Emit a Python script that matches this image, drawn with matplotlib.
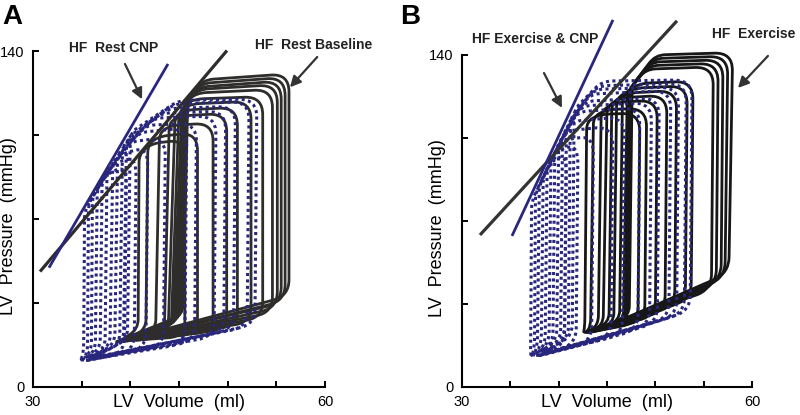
import numpy as np
import matplotlib
matplotlib.use("Agg")
import matplotlib.pyplot as plt
from matplotlib.path import Path
from matplotlib.patches import PathPatch
from matplotlib import font_manager

plt.rcParams['font.family'] = ['Liberation Sans', 'DejaVu Sans']

# ---------------------------------------------------------------------------
# PV loops, one list per condition. Each loop is given by its corner points
# (volume ml, pressure mmHg), in the order
#   bottom-left, bottom-right (end diastole), top-right, top end of ejection,
#   end systole (top-left), lower end of the left side
# ---------------------------------------------------------------------------
rest_baseline = [
    [(38.0, 18.0), (56.3, 38), (56.3, 130.5), (47.5, 128.0), (45.9, 120.0), (45.4, 30)],
    [(38.3, 18.0), (55.9, 36), (55.9, 129.0), (47.3, 126.5), (45.8, 119.5), (45.2, 29)],
    [(38.6, 18.5), (55.5, 35), (55.5, 127.5), (47.1, 125.0), (45.7, 119.0), (45.0, 28)],
    [(39.0, 18.5), (55.1, 33), (55.1, 126.0), (47.0, 124.0), (45.6, 118.5), (44.8, 27)],
    [(39.3, 19.0), (54.6, 31), (54.6, 124.0), (46.8, 122.5), (45.5, 118.0), (44.6, 27)],
    [(39.6, 19.0), (53.6, 29), (53.6, 121.0), (46.6, 120.0), (45.3, 117.0), (44.4, 26)],
    [(40.0, 19.0), (52.4, 27), (52.4, 119.0), (46.3, 118.0), (45.0, 115.0), (44.2, 25)],
    [(40.3, 19.5), (51.0, 25.5), (51.0, 116.5), (45.8, 115.5), (44.6, 113.0), (43.9, 25)],
    [(40.5, 19.5), (49.9, 24), (49.9, 114.0), (45.3, 113.0), (44.0, 110.5), (43.5, 24)],
    [(40.8, 20.0), (48.5, 23), (48.5, 110.0), (44.2, 109.0), (43.0, 106.0), (42.6, 24)],
    [(39.5, 19.5), (46.9, 22), (46.9, 106.0), (43.0, 104.5), (41.8, 101.0), (41.6, 24)],
    [(38.8, 19.0), (45.6, 21), (45.6, 103.0), (42.2, 101.5), (40.9, 97.0), (40.8, 24)],
]

rest_cnp = [
    [(36.2, 12.0), (52.8, 26), (53.0, 120), (45.0, 119.5), (40.0, 106.0), (39.7, 20)],
    [(36.0, 12.0), (52.0, 25), (52.2, 119), (44.5, 118.0), (39.6, 103.5), (39.3, 19)],
    [(35.8, 12.0), (50.6, 24), (50.8, 117), (43.8, 116.0), (39.2, 101.0), (38.9, 18)],
    [(35.6, 11.5), (49.6, 23), (49.8, 115), (43.0, 114.0), (38.7, 97.5), (38.4, 18)],
    [(35.5, 11.5), (48.6, 21), (48.8, 113), (42.3, 112.0), (38.2, 94.0), (37.9, 17)],
    [(35.3, 11.5), (46.6, 19), (46.8, 110), (41.5, 109.0), (37.6, 90.0), (37.4, 16)],
    [(35.2, 11.0), (45.6, 18), (45.8, 108), (40.8, 106.0), (37.1, 86.5), (36.9, 16)],
    [(35.0, 11.0), (43.4, 17), (43.6, 104), (39.8, 102.0), (36.6, 83.0), (36.4, 15)],
    [(35.0, 11.0), (41.6, 16), (41.8, 100), (38.9, 97.0), (36.1, 79.5), (36.0, 15)],
    [(34.9, 10.5), (40.4, 15), (40.6, 96), (38.2, 93.0), (35.7, 76.5), (35.6, 14)],
    [(34.8, 10.5), (39.4, 14), (39.6, 92), (37.6, 89.0), (35.3, 73.5), (35.2, 14)],
]

exercise = [
    [(43.5, 23.0), (57.6, 48), (58.0, 141.0), (50.0, 140.0), (47.6, 127.0), (47.3, 30)],
    [(43.4, 23.0), (57.2, 46), (57.5, 139.5), (49.8, 138.5), (47.5, 126.5), (47.2, 30)],
    [(43.3, 23.0), (56.8, 45), (57.0, 138.0), (49.5, 137.0), (47.4, 126.0), (47.0, 29)],
    [(43.2, 23.0), (56.3, 43), (56.5, 136.5), (49.3, 135.5), (47.3, 125.0), (46.9, 29)],
    [(43.1, 23.0), (55.8, 41), (56.0, 135.0), (49.0, 134.0), (47.1, 124.5), (46.7, 28)],
    [(43.0, 23.0), (53.7, 37), (53.9, 129.0), (48.3, 128.0), (46.6, 123.0), (46.3, 28)],
    [(42.9, 23.0), (53.1, 36), (53.3, 127.0), (47.8, 126.0), (46.0, 122.0), (45.7, 27)],
    [(42.8, 23.0), (52.0, 34), (52.2, 125.0), (47.2, 124.0), (45.5, 120.0), (45.2, 27)],
    [(42.7, 22.5), (51.0, 32), (51.2, 123.0), (46.5, 122.0), (45.0, 118.5), (44.6, 26)],
    [(42.7, 22.5), (50.0, 30), (50.2, 121.0), (45.9, 120.0), (44.4, 116.5), (44.1, 26)],
    [(42.6, 22.5), (48.9, 28), (49.1, 117.5), (45.0, 117.0), (43.6, 114.0), (43.3, 25)],
    [(42.5, 22.5), (48.2, 27), (48.4, 115.5), (44.3, 115.0), (42.9, 112.0), (42.7, 25)],
]

exercise_cnp = [
    [(38.5, 14.0), (53.6, 32), (53.8, 129.5), (44.5, 129.0), (41.6, 117.0), (41.4, 22)],
    [(38.3, 14.0), (53.0, 31), (53.2, 128.0), (44.0, 127.0), (41.2, 113.5), (41.0, 21)],
    [(38.1, 13.5), (52.2, 30), (52.4, 126.5), (43.6, 125.5), (40.8, 110.0), (40.6, 21)],
    [(37.9, 13.5), (51.4, 29), (51.6, 125.0), (43.2, 123.5), (40.4, 106.5), (40.2, 20)],
    [(37.8, 13.5), (50.2, 27), (50.4, 122.0), (42.7, 120.5), (40.0, 103.0), (39.8, 20)],
    [(37.7, 13.0), (49.4, 26), (49.6, 120.0), (42.3, 118.5), (39.6, 99.5), (39.4, 19)],
    [(37.6, 13.0), (48.2, 24), (48.4, 118.0), (41.9, 116.0), (39.2, 96.0), (39.0, 19)],
    [(37.5, 13.0), (46.6, 22), (46.8, 114.0), (41.3, 112.0), (38.8, 92.5), (38.6, 18)],
    [(37.4, 12.5), (45.4, 21), (45.6, 110.0), (40.8, 108.0), (38.4, 89.0), (38.2, 18)],
    [(37.3, 12.5), (43.4, 19), (43.6, 106.0), (40.3, 104.0), (38.0, 85.5), (37.8, 17)],
    [(37.2, 12.5), (41.8, 18), (42.0, 102.0), (39.8, 100.0), (37.6, 82.0), (37.5, 17)],
    [(37.1, 12.5), (40.6, 17), (40.8, 98.0), (39.3, 95.5), (37.2, 78.5), (37.1, 16)],
]

# end-systolic pressure-volume lines (two end points each)
rest_baseline_espvr = ([30.72, 49.93], [48.1, 140.2])
rest_cnp_espvr = ([31.64, 43.87], [49.7, 134.6])
exercise_espvr = ([31.86, 52.24], [64.1, 154.4])
exercise_cnp_espvr = ([35.17, 45.62], [63.7, 154.8])

BLACK_A = '#2e2d2b'
BLACK_B = '#171717'
NAVY = '#29277d'
CORNER_R = [10, 16, 18, 10, 8, 10]   # corner rounding, pixels

# narrow bold face for the annotations if one is installed
_names = {f.name for f in font_manager.fontManager.ttflist}
if 'Liberation Sans Narrow' in _names:
    NOTE_FONT = dict(family='Liberation Sans Narrow', fontsize=11)
else:
    NOTE_FONT = dict(family='Liberation Sans', fontsize=10)


def loop_path(ax, corners, radii):
    # rounded polygon through the corner points, built in pixel space
    pts = ax.transData.transform(np.asarray(corners, float))
    n = len(pts)
    verts, codes = [], []
    for i in range(n):
        c, prev, nxt = pts[i], pts[i - 1], pts[(i + 1) % n]
        din, dout = c - prev, nxt - c
        lin, lout = np.hypot(*din), np.hypot(*dout)
        a = c - din / lin * min(radii[i], 0.45 * lin)
        b = c + dout / lout * min(radii[i], 0.45 * lout)
        verts.append(a)
        codes.append(Path.MOVETO if i == 0 else Path.LINETO)
        verts += [c, b]
        codes += [Path.CURVE3, Path.CURVE3]
    verts.append(verts[0])
    codes.append(Path.LINETO)
    return Path(ax.transData.inverted().transform(np.array(verts)), codes)


def draw_loops(ax, loops, color, ls, lw):
    for corners in loops:
        ax.add_patch(PathPatch(loop_path(ax, corners, CORNER_R), fill=False,
                               ec=color, lw=lw, ls=ls, clip_on=False,
                               capstyle='butt', joinstyle='round'))


def style_axes(ax):
    ax.set_xlim(30, 60)
    ax.set_ylim(0, 140)
    for s in ['top', 'right']:
        ax.spines[s].set_visible(False)
    for s in ['left', 'bottom']:
        ax.spines[s].set_linewidth(1.5)
    ax.set_xticks(np.arange(30, 61, 5))
    ax.set_xticklabels(['30', '', '', '', '', '', '60'])
    ax.set_yticks(np.arange(0, 141, 35))
    ax.set_yticklabels(['0', '', '', '', '140'])
    ax.tick_params(direction='in', length=4, width=1.4, labelsize=10.5, pad=6)
    ax.set_xlabel('LV  Volume  (ml)', fontsize=13)
    ax.xaxis.set_label_coords(0.5, -0.022)
    ax.set_ylabel('LV  Pressure  (mmHg)', fontsize=13)
    ax.yaxis.set_label_coords(-0.056, 0.48)


def note(ax, text, xy, xytext, tx, ty, ha='center'):
    ax.text(tx, ty, text, ha=ha, va='center', fontweight='bold',
            color='#222222', **NOTE_FONT)
    ax.annotate('', xy=xy, xytext=xytext, annotation_clip=False,
                arrowprops=dict(arrowstyle='-|>', lw=1.6, color='#333333',
                                mutation_scale=16, shrinkA=0, shrinkB=0))


fig = plt.figure(figsize=(8, 4.15), dpi=100)
axA = fig.add_axes([0.04125, 0.0675, 0.365, 0.8096])
axB = fig.add_axes([0.5775, 0.0675, 0.3625, 0.80])
style_axes(axA)
style_axes(axB)

draw_loops(axA, rest_baseline, BLACK_A, '-', 2.0)
draw_loops(axA, rest_cnp, NAVY, (0, (1, 1.1)), 2.2)
axA.plot(*rest_baseline_espvr, color=BLACK_A, lw=2.3, clip_on=False, solid_capstyle='butt')
axA.plot(*rest_cnp_espvr, color=NAVY, lw=2.0, clip_on=False, solid_capstyle='butt')

draw_loops(axB, exercise, BLACK_B, '-', 2.0)
draw_loops(axB, exercise_cnp, NAVY, (0, (1, 1.1)), 2.2)
axB.plot(*exercise_espvr, color='#333333', lw=2.3, clip_on=False, solid_capstyle='butt')
axB.plot(*exercise_cnp_espvr, color=NAVY, lw=2.0, clip_on=False, solid_capstyle='butt')

note(axA, 'HF  Rest CNP', (41.2, 119.9), (39.45, 134.6), 38.3, 141.2)
note(axA, 'HF  Rest Baseline', (56.4, 124.9), (59.2, 137.5), 58.8, 142.5)
note(axB, 'HF Exercise & CNP', (40.34, 117.7), (38.48, 132.4), 37.55, 146.8)
note(axB, 'HF  Exercise', (58.55, 126.1), (61.65, 139.6), 64.5, 148.9, ha='right')

fig.text(0.003, 0.99, 'A', fontsize=20, fontweight='bold', va='top', ha='left')
fig.text(0.5, 0.99, 'B', fontsize=20, fontweight='bold', va='top', ha='left')

fig.savefig('out.png', dpi=100)
